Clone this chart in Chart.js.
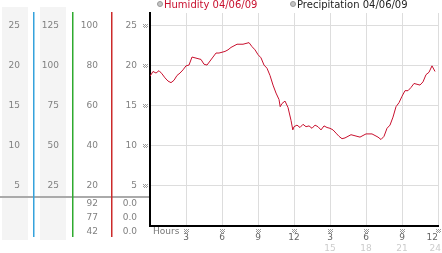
<!DOCTYPE html>
<html>
<head>
<meta charset="utf-8">
<script src="https://cdn.jsdelivr.net/npm/chart.js@4.4.1/dist/chart.umd.min.js"></script>
<style>
  html, body { margin: 0; padding: 0; background: #fff; }
  #wrap { position: relative; width: 442px; height: 253px; font-family: "DejaVu Sans", Verdana, sans-serif; }
  #chart1 { position: absolute; left: 0; top: 0; }
  .leg { position: absolute; top: -1px; font-size: 10px; line-height: 11px; white-space: nowrap; }
  .dot { display: inline-block; width: 4px; height: 4px; border-radius: 50%; background: #c4c4c4; border: 1px solid #999; margin-right: 1px; vertical-align: 1px; }
</style>
</head>
<body>
<div id="wrap">
  <canvas id="chart1" width="442" height="253"></canvas>
</div>
<script>
// horas del dia y humedad
const hours = [
  0, 0.25, 0.5, 0.75, 1, 1.25, 1.5, 1.75, 2, 2.25, 2.5, 2.75,
  3, 3.25, 3.5, 3.75, 4, 4.25, 4.5, 4.75, 5, 5.25, 5.5, 5.75,
  6, 6.25, 6.5, 6.75, 7, 7.25, 7.5, 7.75, 8, 8.25, 8.5, 8.75,
  9, 9.25, 9.5, 9.75, 10, 10.25, 10.5, 10.75, 10.85, 11, 11.25, 11.5,
  11.75, 11.9, 12, 12.25, 12.5, 12.75, 13, 13.25, 13.5, 13.75, 14, 14.25,
  14.5, 14.75, 15, 15.25, 15.5, 15.75, 16, 16.25, 16.5, 16.75, 17, 17.25,
  17.5, 17.75, 18, 18.25, 18.5, 18.75, 19, 19.25, 19.5, 19.75, 20, 20.25,
  20.5, 20.75, 21, 21.25, 21.5, 21.75, 22, 22.25, 22.5, 22.75, 23, 23.25,
  23.5, 23.75
];
const humidity = [
  18.7, 19.3, 19.1, 19.4, 19.0, 18.5, 18.1, 17.9, 18.2, 18.8, 19.1, 19.5,
  20.0, 20.1, 21.1, 21.0, 20.9, 20.8, 20.2, 20.1, 20.6, 21.1, 21.6, 21.6,
  21.7, 21.8, 22.0, 22.3, 22.5, 22.7, 22.7, 22.7, 22.8, 22.9, 22.4, 22.0,
  21.4, 21.0, 20.1, 19.7, 18.8, 17.6, 16.6, 15.8, 14.9, 15.3, 15.6, 14.8,
  13.2, 12.0, 12.4, 12.6, 12.3, 12.7, 12.4, 12.5, 12.2, 12.6, 12.4, 12.0,
  12.5, 12.3, 12.2, 12.0, 11.6, 11.2, 10.9, 11.0, 11.2, 11.4, 11.3, 11.2,
  11.1, 11.3, 11.5, 11.5, 11.5, 11.3, 11.1, 10.8, 11.2, 12.2, 12.6, 13.6,
  14.9, 15.4, 16.2, 16.9, 16.9, 17.3, 17.8, 17.7, 17.6, 18.0, 18.9, 19.2,
  20.0, 19.3
];

const legendLabels = ['Humidity 04/06/09', 'Precipitation 04/06/09'];
const legendColors = ['#c8102e', '#222'];

// ejes
const hourTicks = [3, 6, 9, 12, 15, 18, 21, 24];
const hourLabels = ['3', '6', '9', '12', '3', '6', '9', '12'];
const hour24Ticks = [15, 18, 21, 24];
const hour24Labels = ['15', '18', '21', '24'];
const xTitle = 'Hours';
const humidityTicks = [5, 10, 15, 20, 25];
const colATicks = [5, 10, 15, 20, 25];
const colBTicks = [25, 50, 75, 100, 125];
const colCTicks = [20, 40, 60, 80, 100];
const colCRows = ['92', '77', '42'];
const precipRows = ['0.0', '0.0', '0.0'];

const FONT = '"DejaVu Sans", Verdana, sans-serif';
const wrap = document.getElementById('wrap');
const legendLeft = [157, 290];
legendLabels.forEach((txt, i) => {
  const d = document.createElement('div');
  d.className = 'leg';
  d.style.left = legendLeft[i] + 'px';
  d.style.color = legendColors[i];
  d.innerHTML = '<span class="dot"></span>';
  d.appendChild(document.createTextNode(txt));
  wrap.appendChild(d);
});

const setTicks = (list) => (s) => { s.ticks = list.map(v => ({ value: v })); };

// marca punteada pequeña (como las del original)
function tickMark(ctx, cx, cy) {
  cx = Math.round(cx); cy = Math.round(cy);
  for (let i = -2; i <= 2; i++) {
    for (let j = -2; j <= 1; j++) {
      if ((i + j) % 2 === 0) ctx.fillRect(cx + i, cy + j, 1, 1);
    }
  }
}

// panel izquierdo: fondos grises, lineas de color, filas inferiores, marcas
const panelPlugin = {
  id: 'panel',
  beforeDraw(chart) {
    const { ctx, chartArea, scales } = chart;
    ctx.save();
    ctx.fillStyle = '#f4f4f4';
    const t = chartArea.top - 6, b = chartArea.bottom + 14;
    ctx.fillRect(scales.yA.left + 2, t, scales.yA.right - scales.yA.left - 7, b - t);
    ctx.fillRect(scales.yB.left + 7, t, scales.yB.right - scales.yB.left - 13, b - t);
    ctx.restore();
  },
  afterDraw(chart) {
    const { ctx, chartArea, scales } = chart;
    ctx.save();
    // separador
    ctx.strokeStyle = '#aaa';
    ctx.lineWidth = 2;
    ctx.beginPath();
    ctx.moveTo(0, chartArea.bottom - 29);
    ctx.lineTo(chartArea.left - 1, chartArea.bottom - 29);
    ctx.stroke();
    // lineas de color
    [['yA', '#35a2dc'], ['yB', '#2eaa2e'], ['yC', '#cc2a2a']].forEach(([id, col]) => {
      const x = Math.round(scales[id].right);
      ctx.fillStyle = col;
      ctx.fillRect(x, chartArea.top - 1, 1.5, chartArea.bottom - chartArea.top + 12);
    });
    // filas inferiores
    ctx.font = '9px ' + FONT;
    ctx.fillStyle = '#808080';
    ctx.textAlign = 'right';
    ctx.textBaseline = 'middle';
    colCRows.forEach((v, i) => {
      const y = chartArea.bottom - 22 + i * 14;
      ctx.fillText(v, scales.yC.right - 13, y);
      ctx.fillText(precipRows[i], scales.y.right - 13, y);
    });
    // titulo eje x
    ctx.textAlign = 'left';
    ctx.fillStyle = '#777';
    ctx.fillText(xTitle, chartArea.left + 3, chartArea.bottom + 6);
    // marcas de tick
    ctx.fillStyle = '#999';
    scales.x.ticks.forEach(tk => {
      tickMark(ctx, scales.x.getPixelForValue(tk.value), chartArea.bottom + 5);
    });
    scales.y.ticks.forEach(tk => {
      tickMark(ctx, chartArea.left - 5, scales.y.getPixelForValue(tk.value));
    });
    ctx.restore();
  }
};

const leftAxis = (max, ticks, weight, width) => ({
  position: 'left', min: 0, max: max, weight: weight,
  afterBuildTicks: setTicks(ticks),
  ticks: { color: '#808080', padding: 13, font: { size: 9, family: FONT } },
  grid: { display: false, drawTicks: false },
  border: { display: false },
  afterFit: s => { s.width = width; s.paddingTop = 0; s.paddingBottom = 0; }
});

const chart = new Chart(document.getElementById('chart1').getContext('2d'), {
  type: 'line',
  data: {
    datasets: [{
      label: legendLabels[0],
      data: hours.map((h, i) => ({ x: h, y: humidity[i] })),
      borderColor: legendColors[0],
      borderWidth: 1,
      pointRadius: 0,
      tension: 0,
      fill: false,
      xAxisID: 'x',
      yAxisID: 'y'
    }]
  },
  options: {
    responsive: false,
    animation: false,
    devicePixelRatio: 1,
    layout: { padding: { top: 13, right: 4, left: 0, bottom: 0 } },
    plugins: { legend: { display: false }, tooltip: { enabled: false } },
    scales: {
      x: {
        type: 'linear', position: 'bottom', min: 0, max: 24, weight: 0,
        afterBuildTicks: setTicks(hourTicks),
        ticks: {
          color: '#666', padding: 6, maxRotation: 0, autoSkip: false,
          font: { size: 9, family: FONT },
          callback: (v, i, t) => i === t.length - 1 ? hourLabels[i] + '    ' : hourLabels[i]
        },
        grid: { color: '#ddd', drawTicks: false },
        border: { color: '#000', width: 2 },
        afterFit: s => { s.height = 17; s.paddingLeft = 0; s.paddingRight = 0; }
      },
      x2: {
        type: 'linear', position: 'bottom', min: 0, max: 24, weight: 1,
        afterBuildTicks: setTicks(hour24Ticks),
        ticks: {
          color: '#ccc', padding: 0, maxRotation: 0, autoSkip: false,
          font: { size: 9, family: FONT },
          callback: (v, i, t) => i === t.length - 1 ? hour24Labels[i] + '  ' : hour24Labels[i]
        },
        grid: { display: false, drawTicks: false },
        border: { display: false },
        afterFit: s => { s.height = 10; s.paddingLeft = 0; s.paddingRight = 0; }
      },
      y: {
        position: 'left', min: 0, max: 26.6, weight: 0,
        afterBuildTicks: setTicks(humidityTicks),
        ticks: { color: '#808080', padding: 13, font: { size: 9, family: FONT } },
        grid: { color: '#ddd', drawTicks: false },
        border: { color: '#000', width: 2 },
        afterFit: s => { s.width = 39; s.paddingTop = 0; s.paddingBottom = 0; }
      },
      yC: leftAxis(106.4, colCTicks, 1, 39),
      yB: leftAxis(133, colBTicks, 2, 39),
      yA: leftAxis(26.6, colATicks, 3, 33)
    }
  },
  plugins: [panelPlugin]
});
</script>
</body>
</html>
